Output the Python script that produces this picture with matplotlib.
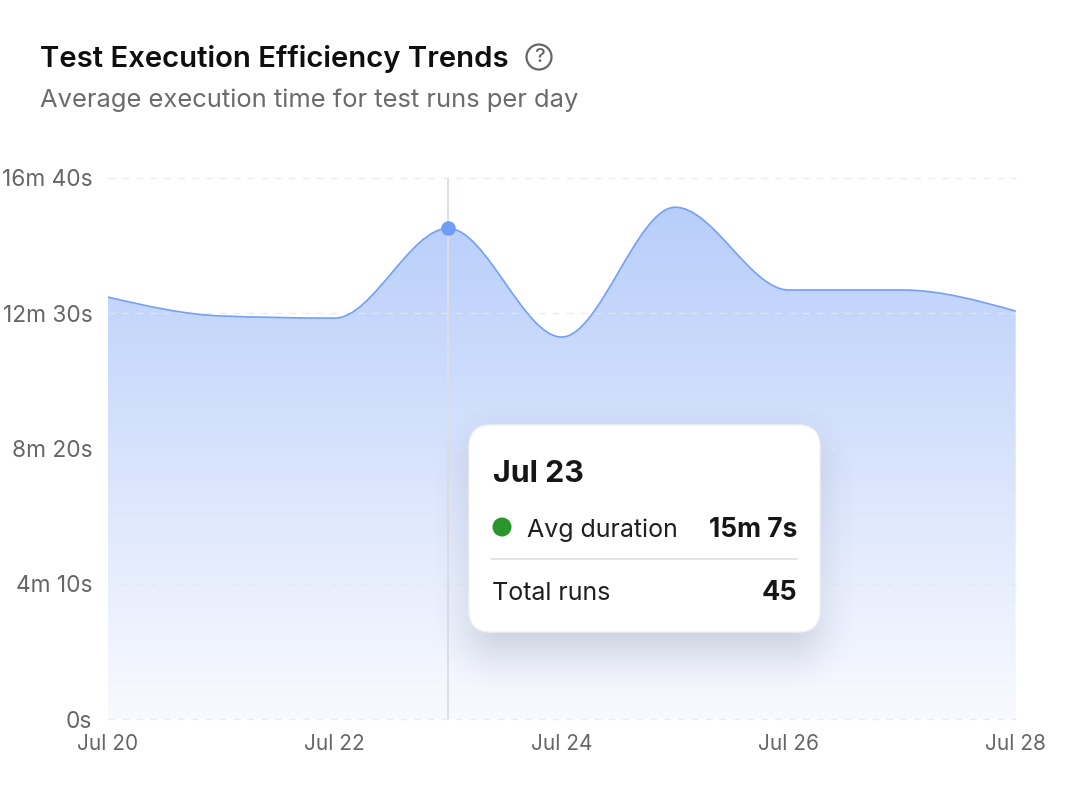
"""
Area chart of the average test execution time per day, with hover tooltip.
"""
import numpy as np
import matplotlib
matplotlib.use("Agg")
import matplotlib.pyplot as plt
from matplotlib.patches import Circle, FancyBboxPatch, PathPatch
from matplotlib.path import Path

plt.rcParams["font.family"] = ["Inter", "DejaVu Sans"]

ANCHO, ALTO = 1082, 800

dias = [0, 1, 2, 3, 4, 5, 6, 7, 8]
duracion = [780, 745, 741, 907, 706, 946, 793, 793, 754]
ticks_x = [0, 2, 4, 6, 8]
etiquetas_x = ["Jul 20", "Jul 22", "Jul 24", "Jul 26", "Jul 28"]
ticks_y = [0, 250, 500, 750, 1000]
etiquetas_y = ["0s", "4m 10s", "8m 20s", "12m 30s", "16m 40s"]
dia_activo = 3


def pendientes_monotonas(x, y):
    """Tangentes de la curva monótona (misma idea que curveMonotoneX)."""
    x = np.asarray(x, float)
    y = np.asarray(y, float)
    h = np.diff(x)
    s = np.diff(y) / h
    m = np.zeros(len(y))
    for i in range(1, len(y) - 1):
        p = (s[i - 1] * h[i] + s[i] * h[i - 1]) / (h[i - 1] + h[i])
        m[i] = (np.sign(s[i - 1]) + np.sign(s[i])) * min(abs(s[i - 1]), abs(s[i]), 0.5 * abs(p))
    m[0] = (3 * s[0] - m[1]) / 2
    m[-1] = (3 * s[-1] - m[-2]) / 2
    return m


def trazo_curva(x, y):
    """Vértices y códigos Bézier que pasan por los puntos de la serie."""
    m = pendientes_monotonas(x, y)
    vertices = [(x[0], y[0])]
    codigos = [Path.MOVETO]
    for i in range(len(x) - 1):
        d = (x[i + 1] - x[i]) / 3
        vertices += [(x[i] + d, y[i] + m[i] * d),
                     (x[i + 1] - d, y[i + 1] - m[i + 1] * d),
                     (x[i + 1], y[i + 1])]
        codigos += [Path.CURVE4] * 3
    return vertices, codigos


fig = plt.figure(figsize=(ANCHO / 100, ALTO / 100), dpi=100, facecolor="white")

# ejes del gráfico, en la misma posición que el original
ax = fig.add_axes([107.7 / ANCHO, 1 - 719 / ALTO, 908 / ANCHO, 541 / ALTO])
ax.set_xlim(0, 8)
ax.set_ylim(0, 1000)
for lado in ax.spines.values():
    lado.set_visible(False)
ax.set_xticks(ticks_x, etiquetas_x, fontsize=15, color="#666666")
ax.set_yticks(ticks_y, etiquetas_y, fontsize=16.3, color="#666666")
ax.tick_params(length=0)
ax.tick_params(axis="x", pad=10.7)
ax.tick_params(axis="y", pad=11)
for t in ax.get_xticklabels() + ax.get_yticklabels():
    t.set_clip_on(False)

# área con degradado vertical
vertices, codigos = trazo_curva(dias, duracion)
area = Path(vertices + [(dias[-1], 0), (dias[0], 0), (dias[0], duracion[0])],
            codigos + [Path.LINETO, Path.LINETO, Path.LINETO])
arriba = np.array([0xB4, 0xCB, 0xFA])
abajo = np.array([0xF9, 0xFA, 0xFF])
f = np.linspace(0, 1, 256)[:, None, None]
degradado = arriba[None, None, :] * (1 - f) + abajo[None, None, :] * f
img = ax.imshow(degradado / 255, extent=[0, 8, 0, 1000], aspect="auto", zorder=1)
img.set_clip_path(PathPatch(area, transform=ax.transData))

# rejilla
for valor in ticks_y:
    ax.axhline(valor, color="#e6e8ec", lw=1.0, dashes=(5, 5), zorder=2, alpha=0.8, clip_on=False)

# línea de la serie y cursor
ax.add_patch(PathPatch(Path(vertices, codigos), fill=False, edgecolor="#74a0f6", lw=1.2, zorder=3))
ax.axvline(dia_activo, color="#dcdfe6", lw=1.4, zorder=3)
ax.plot([dia_activo], [duracion[dia_activo]], "o", ms=10.5, color="#6f9cf6", mec="none", zorder=4, clip_on=False)

# capa en píxeles para textos y tooltip
capa = fig.add_axes([0, 0, 1, 1], zorder=5)
capa.set_xlim(0, ANCHO)
capa.set_ylim(ALTO, 0)
capa.axis("off")
capa.patch.set_alpha(0)

capa.text(39.5, 59, "Test Execution Efficiency Trends", fontsize=21.1, fontweight="semibold",
          color="#0f0f0f", va="center")
capa.text(40, 100, "Average execution time for test runs per day", fontsize=18.4,
          color="#6b6b6b", va="center")
capa.add_patch(Circle((539, 57), 12.5, fill=False, edgecolor="#666666", lw=1.6))
capa.text(539, 57.5, "?", fontsize=14.5, fontweight="medium", color="#666666", ha="center", va="center")

# sombra difusa del tooltip
caja = (469, 425, 820, 632)
radio = 22
xx, yy = np.meshgrid(np.arange(ANCHO) + 0.5, np.arange(ALTO) + 0.5)
cx, cy = (caja[0] + caja[2]) / 2, (caja[1] + caja[3]) / 2 + 20
qx = np.abs(xx - cx) - ((caja[2] - caja[0]) / 2 - 10 - radio)
qy = np.abs(yy - cy) - ((caja[3] - caja[1]) / 2 - 4 - radio)
dist = np.hypot(np.maximum(qx, 0), np.maximum(qy, 0)) + np.minimum(np.maximum(qx, qy), 0) - radio
t = np.clip(0.5 - dist / 100, 0, 1)
sombra = np.zeros((ALTO, ANCHO, 4))
sombra[..., :3] = np.array([0x50, 0x55, 0x70]) / 255
sombra[..., 3] = 0.26 * t * t * (3 - 2 * t)
capa.imshow(sombra, extent=[0, ANCHO, ALTO, 0], aspect="auto", zorder=1)

capa.add_patch(FancyBboxPatch((caja[0] + radio, caja[1] + radio), caja[2] - caja[0] - 2 * radio,
                              caja[3] - caja[1] - 2 * radio, boxstyle=f"round,pad={radio},rounding_size={radio}",
                              facecolor="white", edgecolor="#f2f2f2", lw=1.0, zorder=2))
capa.text(493, 474, "Jul 23", fontsize=21.9, fontweight="bold", color="#161616", va="center", zorder=3)
capa.add_patch(Circle((502, 527), 9.5, facecolor="#2a952b", edgecolor="none", zorder=3))
capa.text(527, 530, "Avg duration", fontsize=18, color="#1f1f1f", va="center", zorder=3)
capa.text(797, 530, "15m 7s", fontsize=18.9, fontweight="bold", color="#161616", va="center", ha="right", zorder=3)
capa.plot([492, 797], [559, 559], color="#e4e4e4", lw=1.4, zorder=3)
capa.text(492, 593, "Total runs", fontsize=18, color="#1f1f1f", va="center", zorder=3)
capa.text(797, 593, "45", fontsize=19.5, fontweight="bold", color="#161616", va="center", ha="right", zorder=3)

fig.savefig("out.png", dpi=100)
plt.close(fig)
